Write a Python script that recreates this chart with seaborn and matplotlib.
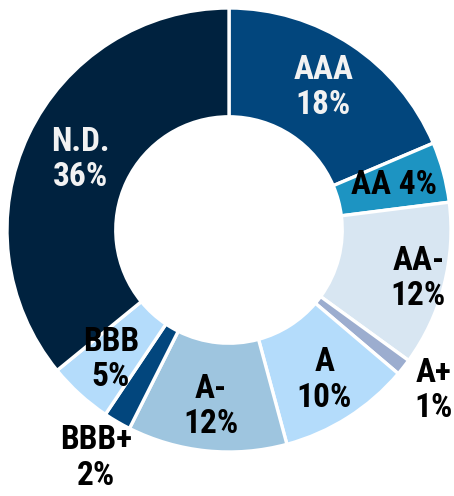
import numpy as np
import seaborn as sns
import matplotlib.pyplot as plt

# rating buckets, clockwise from 12 o'clock
ratings = ["AAA", "AA", "AA-", "A+", "A", "A-", "BBB+", "BBB", "N.D."]
shares = [18.6, 4.4, 12.0, 1.2, 9.6, 11.6, 2.0, 4.7, 35.9]
pct_labels = ["18%", "4%", "12%", "1%", "10%", "12%", "2%", "5%", "36%"]
colors = ["#02467d", "#1d94c2", "#d8e6f2", "#9cadcf", "#b4dcfb",
          "#9ec5df", "#02467d", "#b4dcfb", "#00223f"]
text_colors = ["#f2f2f2", "black", "black", "black", "black",
               "black", "black", "black", "#f2f2f2"]
# label distance from centre as a fraction of outer radius
label_r = [0.77, 0.77, 0.88, 1.17, 0.80, 0.80, 1.19, 0.79, 0.74]
one_line = ["AA"]

sns.set_theme(style="white")
plt.rcParams["font.family"] = ["Roboto Condensed", "Liberation Sans", "DejaVu Sans"]

fig = plt.figure(figsize=(4.54, 4.96), dpi=100)
ax = fig.add_axes([0, 0, 1, 1])

wedges, _ = ax.pie(
    shares,
    colors=colors,
    startangle=90,
    counterclock=False,
    radius=1.0,
    wedgeprops=dict(width=0.49, edgecolor="white", linewidth=2.4),
)

for w, name, pct, tc, r in zip(wedges, ratings, pct_labels, text_colors, label_r):
    ang = np.deg2rad((w.theta1 + w.theta2) / 2)
    x, y = r * np.cos(ang), r * np.sin(ang)
    txt = f"{name} {pct}" if name in one_line else f"{name}\n{pct}"
    ax.text(x, y, txt, ha="center", va="center", color=tc,
            fontsize=24, fontweight="bold", linespacing=1.14)

ax.set_xlim(-229 / 222, 225 / 222)
ax.set_ylim(-266 / 222, 230 / 222)
ax.set_aspect("auto")
ax.axis("off")

fig.savefig("out.png", dpi=100, facecolor="white")
